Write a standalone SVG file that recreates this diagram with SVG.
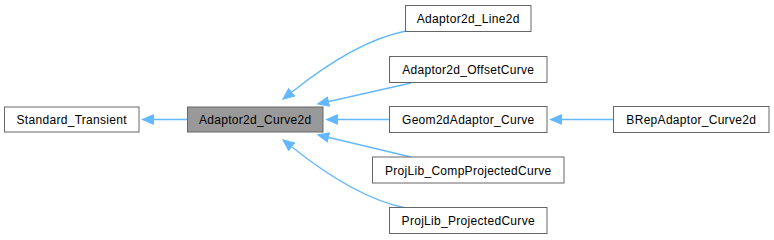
<svg xmlns="http://www.w3.org/2000/svg" width="774" height="240" viewBox="0 0 774 240">
<defs>
<style>
.n rect{fill:#ffffff;stroke:#666666;stroke-width:1}
.cur rect{fill:#999999;stroke:#666666}
.n text{font-family:"Liberation Sans",Arial,sans-serif;font-size:12px;letter-spacing:0.3px;fill:#000000;text-anchor:middle}
.e path{fill:none;stroke:#63b8ff;stroke-width:1.3}
</style>
<marker id="ah" markerUnits="userSpaceOnUse" viewBox="0 0 13 11" refX="0" refY="5.5" markerWidth="13" markerHeight="11" orient="auto">
<path d="M0,0 L13,5.5 L0,11 z" fill="#63b8ff"/>
</marker>
</defs>
<rect width="774" height="240" fill="#ffffff"/>
<g id="connectors" class="e">
<path d="M187,119.5 L154,119.5" marker-end="url(#ah)"/>
<path d="M389,119.5 L338,119.5" marker-end="url(#ah)"/>
<path d="M613,119.5 L562,119.5" marker-end="url(#ah)"/>
<path d="M406,31 C370,38 332,60 292,92" marker-end="url(#ah)"/>
<path d="M411,83 L329,101.5" marker-end="url(#ah)"/>
<path d="M411,157 L329,137.5" marker-end="url(#ah)"/>
<path d="M406,208 C370,201 332,179 292,147" marker-end="url(#ah)"/>
</g>
<g id="node_standard_transient" class="n"><rect x="4.5" y="107" width="134.5" height="25"/><text x="71.75" y="124">Standard_Transient</text></g>
<g id="node_adaptor2d_curve2d" class="n cur"><rect x="187.5" y="107" width="135.5" height="25"/><text x="255.25" y="124">Adaptor2d_Curve2d</text></g>
<g id="node_adaptor2d_line2d" class="n"><rect x="405.5" y="5.5" width="125.5" height="26"/><text x="468.25" y="23">Adaptor2d_Line2d</text></g>
<g id="node_adaptor2d_offsetcurve" class="n"><rect x="389.5" y="56.5" width="157.5" height="26"/><text x="468.25" y="74">Adaptor2d_OffsetCurve</text></g>
<g id="node_geom2dadaptor_curve" class="n"><rect x="389.5" y="106.5" width="157.5" height="26"/><text x="468.25" y="124">Geom2dAdaptor_Curve</text></g>
<g id="node_projlib_compprojectedcurve" class="n"><rect x="372.5" y="157" width="191.5" height="26"/><text x="468.25" y="174.5">ProjLib_CompProjectedCurve</text></g>
<g id="node_projlib_projectedcurve" class="n"><rect x="389.5" y="207.5" width="157.5" height="26"/><text x="468.25" y="225">ProjLib_ProjectedCurve</text></g>
<g id="node_brepadaptor_curve2d" class="n"><rect x="613.5" y="106.5" width="155.5" height="26"/><text x="691.25" y="124">BRepAdaptor_Curve2d</text></g>
</svg>
